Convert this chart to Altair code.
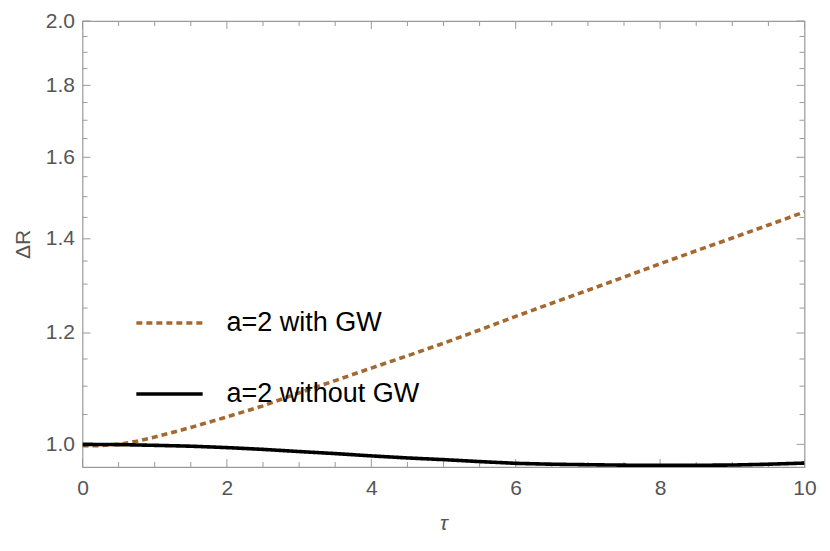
import altair as alt
import pandas as pd

tau_black = [0, 0.5, 1, 1.5, 2, 2.5, 3, 3.5, 4, 4.5, 5, 5.5, 6, 6.5, 7, 7.5, 8, 8.5, 9, 9.5, 10]
r_black = [1.0, 0.9996, 0.9984, 0.997, 0.9947, 0.9918, 0.9883, 0.985, 0.9813, 0.978, 0.9753,
           0.9722, 0.9694, 0.968, 0.9672, 0.9665, 0.9663, 0.9663, 0.9667, 0.968, 0.9698]
tau_brown = [0, 0.25, 0.5, 0.75, 1, 1.5, 2, 2.5, 3, 3.5, 4, 4.5, 5, 5.5, 6, 6.5, 7, 7.5, 8, 8.5, 9, 9.5, 10]
r_brown = [0.998, 0.998, 1.0, 1.005, 1.012, 1.028, 1.046, 1.065, 1.088, 1.110, 1.133, 1.156, 1.180,
           1.206, 1.233, 1.260, 1.287, 1.315, 1.344, 1.373, 1.402, 1.432, 1.463]
series_names = ["a=2 with GW", "a=2 without GW"]

x_major = [0, 2, 4, 6, 8, 10]
x_minor = [0.5, 1, 1.5, 2.5, 3, 3.5, 4.5, 5, 5.5, 6.5, 7, 7.5, 8.5, 9, 9.5]
y_major = [1.0, 1.2, 1.4, 1.6, 1.8, 2.0]
y_minor = [1.05, 1.1, 1.15, 1.25, 1.3, 1.35, 1.45, 1.5, 1.55, 1.65, 1.7, 1.75, 1.85, 1.9, 1.95]

W, H = 722, 446
GRAY = "#9a9a9a"
LABEL = "#555555"
FONT = "Liberation Sans"

df = pd.concat([
    pd.DataFrame({"tau": tau_brown, "R": r_brown, "series": series_names[0]}),
    pd.DataFrame({"tau": tau_black, "R": r_black, "series": series_names[1]}),
])

xs = alt.Scale(domain=[0, 10], nice=False, zero=False)
ys = alt.Scale(type="log", domain=[0.9636, 2.0], nice=False, zero=False)

lines = alt.Chart(df).mark_line(strokeWidth=3.6, clip=True).encode(
    x=alt.X("tau:Q", scale=xs, title="τ",
            axis=alt.Axis(values=x_major, format="d", ticks=False, domain=False, grid=False,
                          labelFlush=False, labelPadding=10, titlePadding=14)),
    y=alt.Y("R:Q", scale=ys, title="ΔR",
            axis=alt.Axis(values=y_major, format=".1f", ticks=False, domain=False, grid=False,
                          labelFlush=False, labelPadding=8, titlePadding=12)),
    color=alt.Color("series:N", scale=alt.Scale(domain=series_names, range=["#A5692F", "black"]),
                    title=None,
                    legend=alt.Legend(orient="none", legendX=52, legendY=267, symbolType="stroke",
                                      symbolSize=4400, symbolStrokeWidth=3.6, labelFontSize=27,
                                      labelColor="black", labelFont=FONT, labelOffset=22,
                                      rowPadding=23, labelLimit=400)),
    strokeDash=alt.StrokeDash("series:N", scale=alt.Scale(domain=series_names, range=[[6, 4], [1, 0]]),
                              legend=None),
    order=alt.Order("tau:Q"),
)

def xticks(vals, length):
    d = pd.DataFrame({"t": vals})
    b = alt.Chart(d).mark_rule(color=GRAY, strokeWidth=1).encode(
        x=alt.X("t:Q", scale=xs), y=alt.value(H), y2=alt.value(H - length))
    t = alt.Chart(d).mark_rule(color=GRAY, strokeWidth=1).encode(
        x=alt.X("t:Q", scale=xs), y=alt.value(0), y2=alt.value(length))
    return b + t

def yticks(vals, length):
    d = pd.DataFrame({"t": vals})
    l = alt.Chart(d).mark_rule(color=GRAY, strokeWidth=1).encode(
        y=alt.Y("t:Q", scale=ys), x=alt.value(0), x2=alt.value(length))
    r = alt.Chart(d).mark_rule(color=GRAY, strokeWidth=1).encode(
        y=alt.Y("t:Q", scale=ys), x=alt.value(W), x2=alt.value(W - length))
    return l + r

chart = alt.layer(
    xticks(x_major, 8), xticks(x_minor, 5), yticks(y_major, 8), yticks(y_minor, 5), lines
).properties(
    width=W, height=H,
    autosize=alt.AutoSizeParams(type="none"),
    padding={"top": 13, "left": 74.5, "right": 15, "bottom": 74}
).configure_view(
    stroke=GRAY, strokeWidth=1.2
).configure_axis(
    labelFont=FONT, labelFontSize=21, labelColor=LABEL,
    titleFont=FONT, titleFontSize=21, titleColor=LABEL, titleFontWeight="normal"
).configure_axisX(
    titleFontStyle="italic"
)

chart.save("out.html", embed_options={"renderer": "svg", "actions": False})
